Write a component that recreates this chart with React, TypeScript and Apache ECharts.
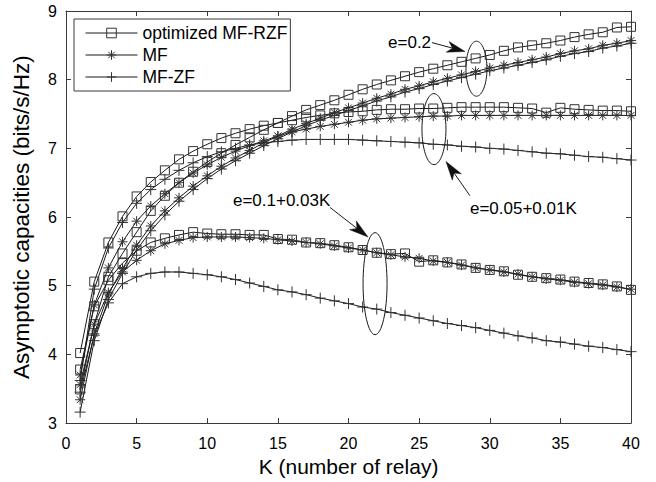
import React, { useEffect, useRef } from "react";
import * as echarts from "echarts";

// Number of relays
const K = [1, 2, 3, 4, 5, 6, 7, 8, 9, 10, 11, 12, 13, 14, 15, 16, 17, 18, 19, 20,
  21, 22, 23, 24, 25, 26, 27, 28, 29, 30, 31, 32, 33, 34, 35, 36, 37, 38, 39, 40];

// e = 0.2
const rzfA = [3.49, 4.44, 5.13, 5.47, 5.78, 6.09, 6.31, 6.5, 6.66, 6.8, 6.93, 7.05, 7.16, 7.27, 7.37, 7.47, 7.56, 7.63, 7.7, 7.78,
  7.86, 7.93, 7.99, 8.05, 8.11, 8.16, 8.21, 8.26, 8.31, 8.36, 8.42, 8.47, 8.5, 8.53, 8.57, 8.62, 8.66, 8.69, 8.76, 8.77];
const mfA = [3.34, 4.3, 4.88, 5.25, 5.59, 5.87, 6.09, 6.28, 6.45, 6.6, 6.74, 6.86, 6.97, 7.08, 7.18, 7.28, 7.36, 7.44, 7.52, 7.59,
  7.66, 7.73, 7.79, 7.86, 7.91, 7.97, 8.02, 8.07, 8.12, 8.17, 8.21, 8.25, 8.29, 8.33, 8.38, 8.42, 8.45, 8.5, 8.53, 8.57];
const zfA = [3.16, 4.2, 4.8, 5.18, 5.52, 5.8, 6.03, 6.23, 6.4, 6.56, 6.7, 6.82, 6.93, 7.04, 7.14, 7.24, 7.33, 7.41, 7.48, 7.55,
  7.62, 7.69, 7.75, 7.82, 7.87, 7.93, 7.98, 8.03, 8.08, 8.13, 8.17, 8.21, 8.25, 8.29, 8.34, 8.38, 8.41, 8.46, 8.49, 8.53];

// e = 0.05 + 0.01K
const rzfB = [4.02, 5.06, 5.63, 6.01, 6.3, 6.51, 6.68, 6.84, 6.96, 7.06, 7.15, 7.22, 7.28, 7.33, 7.37, 7.41, 7.45, 7.48, 7.51, 7.53,
  7.54, 7.56, 7.57, 7.57, 7.58, 7.58, 7.59, 7.6, 7.6, 7.6, 7.6, 7.59, 7.58, 7.52, 7.59, 7.57, 7.56, 7.55, 7.55, 7.54];
const mfB = [3.7, 4.72, 5.26, 5.64, 5.94, 6.16, 6.34, 6.5, 6.64, 6.76, 6.87, 6.96, 7.04, 7.11, 7.18, 7.24, 7.28, 7.32, 7.35, 7.38,
  7.41, 7.43, 7.44, 7.45, 7.46, 7.47, 7.47, 7.48, 7.48, 7.48, 7.48, 7.48, 7.48, 7.48, 7.48, 7.48, 7.48, 7.48, 7.48, 7.48];
const zfB = [3.62, 4.95, 5.55, 5.92, 6.2, 6.4, 6.55, 6.68, 6.79, 6.88, 6.95, 7.0, 7.05, 7.08, 7.1, 7.12, 7.13, 7.13, 7.13, 7.13,
  7.12, 7.11, 7.1, 7.09, 7.08, 7.06, 7.05, 7.03, 7.02, 7.0, 6.99, 6.97, 6.95, 6.93, 6.92, 6.9, 6.88, 6.87, 6.85, 6.83];

// e = 0.1 + 0.03K
const rzfC = [3.78, 4.7, 5.08, 5.33, 5.51, 5.63, 5.69, 5.74, 5.78, 5.76, 5.75, 5.75, 5.74, 5.74, 5.68, 5.67, 5.63, 5.62, 5.59, 5.56,
  5.52, 5.48, 5.46, 5.47, 5.35, 5.37, 5.34, 5.31, 5.26, 5.23, 5.21, 5.16, 5.13, 5.11, 5.09, 5.06, 5.04, 5.02, 4.99, 4.94];
const mfC = [3.56, 4.44, 4.9, 5.2, 5.37, 5.51, 5.61, 5.66, 5.7, 5.71, 5.71, 5.71, 5.7, 5.69, 5.67, 5.65, 5.63, 5.61, 5.58, 5.55,
  5.52, 5.48, 5.45, 5.42, 5.4, 5.36, 5.34, 5.3, 5.26, 5.23, 5.2, 5.17, 5.13, 5.1, 5.08, 5.05, 5.03, 5.01, 4.98, 4.95];
const zfC = [3.45, 4.28, 4.75, 5.03, 5.13, 5.18, 5.2, 5.2, 5.18, 5.16, 5.13, 5.09, 5.04, 4.99, 4.94, 4.91, 4.87, 4.82, 4.78, 4.74,
  4.69, 4.66, 4.61, 4.57, 4.53, 4.49, 4.45, 4.42, 4.39, 4.35, 4.31, 4.27, 4.24, 4.2, 4.18, 4.15, 4.12, 4.1, 4.07, 4.04];

const legendNames = ["optimized MF-RZF", "MF", "MF-ZF"];
const xTicks = { min: 0, max: 40, interval: 5 };
const yTicks = { min: 3, max: 9, interval: 1 };

const FONT = "Liberation Sans, Arial, Helvetica, sans-serif";
const INK = "#1a1a1a";
const FRAME = "#3a3a3a";

const SYM_SQUARE = "rect";
const SYM_STAR = "path://M5,0 L5,10 M0,5 L10,5 M1.6,1.6 L8.4,8.4 M1.6,8.4 L8.4,1.6";
const SYM_PLUS = "path://M5,0 L5,10 M0,5 L10,5";

export default function App() {
  const ref = useRef<HTMLDivElement>(null);
  useEffect(() => {
    if (!ref.current) return;
    const chart = echarts.init(ref.current, undefined, { renderer: "svg" });

    const mk = (name: string, vals: number[], symbol: string, size: number, z: number) => ({
      type: "line",
      name,
      data: K.map((k, i) => [k, vals[i]]),
      symbol,
      symbolSize: size,
      showAllSymbol: true,
      symbolKeepAspect: true,
      lineStyle: { color: INK, width: 1 },
      itemStyle: { color: "rgba(0,0,0,0)", borderColor: "#333", borderWidth: 1 },
      emphasis: { disabled: true },
      z,
    });

    const axisLine = { show: true, onZero: false, lineStyle: { color: FRAME, width: 1 } };
    const axisTick = { show: true, inside: true, length: 5, lineStyle: { color: FRAME, width: 1 } };

    chart.setOption({
      animation: false,
      grid: { left: 66, right: 25, top: 11, bottom: 51, containLabel: false },
      legend: {
        data: legendNames,
        orient: "vertical",
        left: 74,
        top: 19,
        itemWidth: 52,
        itemHeight: 12,
        itemGap: 4,
        padding: [5, 3, 5, 11],
        backgroundColor: "#fff",
        borderColor: FRAME,
        borderWidth: 1,
        lineStyle: { width: 1, color: INK },
        itemStyle: { borderWidth: 1, borderColor: "#333", color: "rgba(0,0,0,0)" },
        textStyle: { fontSize: 17.5, color: "#000", fontFamily: FONT, lineHeight: 17 },
        selectedMode: false,
      },
      xAxis: [
        {
          type: "value", ...xTicks, position: "bottom",
          axisLine, axisTick,
          axisLabel: { color: "#000", fontSize: 16, fontFamily: FONT, margin: 12 },
          splitLine: { show: false },
          name: "K (number of relay)", nameLocation: "middle", nameGap: 27,
          nameTextStyle: { fontSize: 21, color: "#000", fontFamily: FONT },
        },
        {
          type: "value", ...xTicks, position: "top",
          axisLine, axisTick, axisLabel: { show: false }, splitLine: { show: false },
        },
      ],
      yAxis: [
        {
          type: "value", ...yTicks, position: "left",
          axisLine, axisTick,
          axisLabel: { color: "#000", fontSize: 16, fontFamily: FONT, margin: 9 },
          splitLine: { show: false },
          name: "Asymptotic capacities (bits/s/Hz)", nameLocation: "middle", nameGap: 33,
          nameTextStyle: { fontSize: 22.5, color: "#000", fontFamily: FONT },
        },
        {
          type: "value", ...yTicks, position: "right",
          axisLine, axisTick, axisLabel: { show: false }, splitLine: { show: false },
        },
      ],
      series: [
        mk(legendNames[0], rzfA, SYM_SQUARE, 9, 3),
        mk(legendNames[1], mfA, SYM_STAR, 10, 4),
        mk(legendNames[2], zfA, SYM_PLUS, 11, 2),
        mk(legendNames[0], rzfB, SYM_SQUARE, 9, 3),
        mk(legendNames[1], mfB, SYM_STAR, 10, 4),
        mk(legendNames[2], zfB, SYM_PLUS, 11, 2),
        mk(legendNames[0], rzfC, SYM_SQUARE, 9, 3),
        mk(legendNames[1], mfC, SYM_STAR, 10, 4),
        mk(legendNames[2], zfC, SYM_PLUS, 11, 2),
      ],
    });

    const px = (k: number, v: number) => chart.convertToPixel({ gridIndex: 0 }, [k, v]) as number[];

    const arrow = (s: number[], t: number[], len: number, half: number) => {
      const dx = t[0] - s[0], dy = t[1] - s[1];
      const d = Math.hypot(dx, dy);
      const ux = dx / d, uy = dy / d, nx = -uy, ny = ux;
      const back = [t[0] - ux * len, t[1] - uy * len];
      const notch = [t[0] - ux * (len - 5), t[1] - uy * (len - 5)];
      return [
        { type: "line", shape: { x1: s[0], y1: s[1], x2: notch[0], y2: notch[1] }, style: { stroke: INK, lineWidth: 1 }, z: 20 },
        {
          type: "polygon",
          shape: { points: [t, [back[0] + nx * half, back[1] + ny * half], notch, [back[0] - nx * half, back[1] - ny * half]] },
          style: { fill: "#111", stroke: "#111", lineWidth: 0.5 }, z: 20,
        },
      ];
    };
    const ellipse = (c: number[], rx: number, ry: number) => ({
      type: "ellipse", shape: { cx: c[0], cy: c[1], rx, ry },
      style: { fill: "none", stroke: INK, lineWidth: 1 }, z: 20,
    });
    const label = (p: number[], text: string) => ({
      type: "text", x: p[0], y: p[1],
      style: { text, fontSize: 17, fontFamily: FONT, fill: "#000", verticalAlign: "middle", align: "left" }, z: 21,
    });

    chart.setOption({
      graphic: [
        ellipse(px(29.06, 8.16), 10.5, 27.5),
        ellipse(px(26.05, 7.28), 12, 35.5),
        ellipse(px(21.88, 5.03), 12, 51),
        label(px(22.8, 8.54), "e=0.2"),
        label(px(28.6, 6.13), "e=0.05+0.01K"),
        label(px(11.82, 6.24), "e=0.1+0.03K"),
        ...arrow(px(25.91, 8.54), px(28.25, 8.41), 18, 5.5),
        ...arrow(px(28.6, 6.31), px(26.9, 6.81), 19, 5.5),
        ...arrow(px(18.69, 6.14), px(21.38, 5.71), 19, 5.5),
      ],
    });

    return () => chart.dispose();
  }, []);

  return <div ref={ref} style={{ position: "fixed", left: 0, top: 0, width: 656, height: 482, background: "#fff" }} />;
}
